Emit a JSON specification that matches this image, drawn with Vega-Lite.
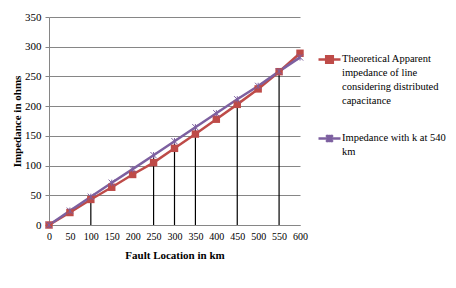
{
  "$schema": "https://vega.github.io/schema/vega-lite/v6.json",
  "autosize": "none",
  "width": 251,
  "height": 208,
  "padding": {"left": 49, "top": 17, "right": 156, "bottom": 63},
  "background": "white",
  "config": {
    "view": {"stroke": null},
    "font": "Liberation Serif",
    "axis": {"labelFont": "Liberation Serif", "titleFont": "Liberation Serif", "labelFontSize": 11, "titleFontSize": 11, "labelColor": "#000", "titleColor": "#000", "titleFontWeight": "bold", "gridColor": "#868686", "domainColor": "#868686", "tickColor": "#868686", "labelOverlap": false}
  },
  "datasets": {
    "series": [
      {"km": 0, "series": "Theoretical Apparent impedance of line considering distributed capacitance", "ohms": 0},
      {"km": 50, "series": "Theoretical Apparent impedance of line considering distributed capacitance", "ohms": 21},
      {"km": 100, "series": "Theoretical Apparent impedance of line considering distributed capacitance", "ohms": 43},
      {"km": 150, "series": "Theoretical Apparent impedance of line considering distributed capacitance", "ohms": 63.5},
      {"km": 200, "series": "Theoretical Apparent impedance of line considering distributed capacitance", "ohms": 85},
      {"km": 250, "series": "Theoretical Apparent impedance of line considering distributed capacitance", "ohms": 105},
      {"km": 300, "series": "Theoretical Apparent impedance of line considering distributed capacitance", "ohms": 129},
      {"km": 350, "series": "Theoretical Apparent impedance of line considering distributed capacitance", "ohms": 153},
      {"km": 400, "series": "Theoretical Apparent impedance of line considering distributed capacitance", "ohms": 178},
      {"km": 450, "series": "Theoretical Apparent impedance of line considering distributed capacitance", "ohms": 203},
      {"km": 500, "series": "Theoretical Apparent impedance of line considering distributed capacitance", "ohms": 229},
      {"km": 550, "series": "Theoretical Apparent impedance of line considering distributed capacitance", "ohms": 258},
      {"km": 600, "series": "Theoretical Apparent impedance of line considering distributed capacitance", "ohms": 289},
      {"km": 0, "series": "Impedance with k at 540 km", "ohms": 0},
      {"km": 50, "series": "Impedance with k at 540 km", "ohms": 24},
      {"km": 100, "series": "Impedance with k at 540 km", "ohms": 47.5},
      {"km": 150, "series": "Impedance with k at 540 km", "ohms": 71},
      {"km": 200, "series": "Impedance with k at 540 km", "ohms": 94},
      {"km": 250, "series": "Impedance with k at 540 km", "ohms": 117.5},
      {"km": 300, "series": "Impedance with k at 540 km", "ohms": 141},
      {"km": 350, "series": "Impedance with k at 540 km", "ohms": 164.5},
      {"km": 400, "series": "Impedance with k at 540 km", "ohms": 188},
      {"km": 450, "series": "Impedance with k at 540 km", "ohms": 211.5},
      {"km": 500, "series": "Impedance with k at 540 km", "ohms": 234},
      {"km": 550, "series": "Impedance with k at 540 km", "ohms": 258.5},
      {"km": 600, "series": "Impedance with k at 540 km", "ohms": 282}
    ],
    "drops": [
      {"km": 100, "top": 49, "base": 0},
      {"km": 250, "top": 119, "base": 0},
      {"km": 300, "top": 140, "base": 0},
      {"km": 350, "top": 165, "base": 0},
      {"km": 450, "top": 211, "base": 0},
      {"km": 550, "top": 260, "base": 0}
    ]
  },
  "layer": [
    {
      "data": {"name": "drops"},
      "mark": {"type": "rule", "color": "#000", "strokeWidth": 1.2},
      "encoding": {
        "x": {"field": "km", "type": "quantitative", "scale": {"domain": [0, 600], "nice": false},
          "axis": {"tickCount": 12, "grid": false, "ticks": false, "title": "Fault Location in km", "labelFontSize": 10, "labelFlush": false, "labelPadding": 6, "titlePadding": 8, "domain": true, "labelOverlap": false}},
        "y": {"field": "top", "type": "quantitative", "scale": {"domain": [0, 350], "nice": false},
          "axis": {"tickCount": 7, "title": "Impedance in ohms", "tickSize": 4, "labelPadding": 4, "titlePadding": 2, "labelOverlap": false}},
        "y2": {"field": "base"}
      }
    },
    {
      "data": {"name": "series"},
      "mark": {"type": "line", "strokeWidth": 2.5},
      "encoding": {
        "x": {"field": "km", "type": "quantitative"},
        "y": {"field": "ohms", "type": "quantitative"},
        "color": {"field": "series", "type": "nominal",
          "scale": {"domain": ["Theoretical Apparent impedance of line considering distributed capacitance", "Impedance with k at 540 km"], "range": ["#BE4B48", "#7D60A0"]},
          "legend": {
            "orient": "none", "legendX": 268, "legendY": 30, "title": null,
            "labelFont": "Liberation Serif", "labelFontSize": 10.5, "labelColor": "#000",
            "labelBaseline": "top", "labelOffset": 0, "rowPadding": 20, "symbolSize": 484,
            "labelLimit": 200,
            "labelExpr": "datum.value == 'Impedance with k at 540 km' ? ['Impedance with k at 540', 'km'] : ['Theoretical Apparent', 'impedance of line', 'considering distributed', 'capacitance']",
            "encode": {
              "labels": {"update": {"lineHeight": {"value": 14}, "dy": {"value": -6}}},
              "symbols": {"update": {
                "shape": {"signal": "datum.value == 'Impedance with k at 540 km' ? 'M-1,0H1M-0.3,-0.3L0.3,0.3M-0.3,0.3L0.3,-0.3M0,-0.35V0.35' : 'M-1,0H1M-0.3,-0.3H0.3V0.3H-0.3Z'"},
                "fill": {"signal": "datum.value == 'Impedance with k at 540 km' ? 'transparent' : '#BE4B48'"},
                "strokeWidth": {"value": 2.5}
              }}
            }
          }
        }
      }
    },
    {
      "data": {"name": "series"},
      "transform": [{"filter": "datum.series != 'Impedance with k at 540 km'"}],
      "mark": {"type": "point", "shape": "square", "filled": true, "size": 55, "color": "#BE4B48", "opacity": 1},
      "encoding": {
        "x": {"field": "km", "type": "quantitative"},
        "y": {"field": "ohms", "type": "quantitative"}
      }
    },
    {
      "data": {"name": "series"},
      "transform": [{"filter": "datum.series == 'Impedance with k at 540 km'"}],
      "mark": {"type": "point", "shape": "M-1,-1L1,1M-1,1L1,-1M0,-1V1", "filled": false, "size": 40, "color": "#7D60A0", "strokeWidth": 1, "opacity": 1},
      "encoding": {
        "x": {"field": "km", "type": "quantitative"},
        "y": {"field": "ohms", "type": "quantitative"}
      }
    }
  ]
}
